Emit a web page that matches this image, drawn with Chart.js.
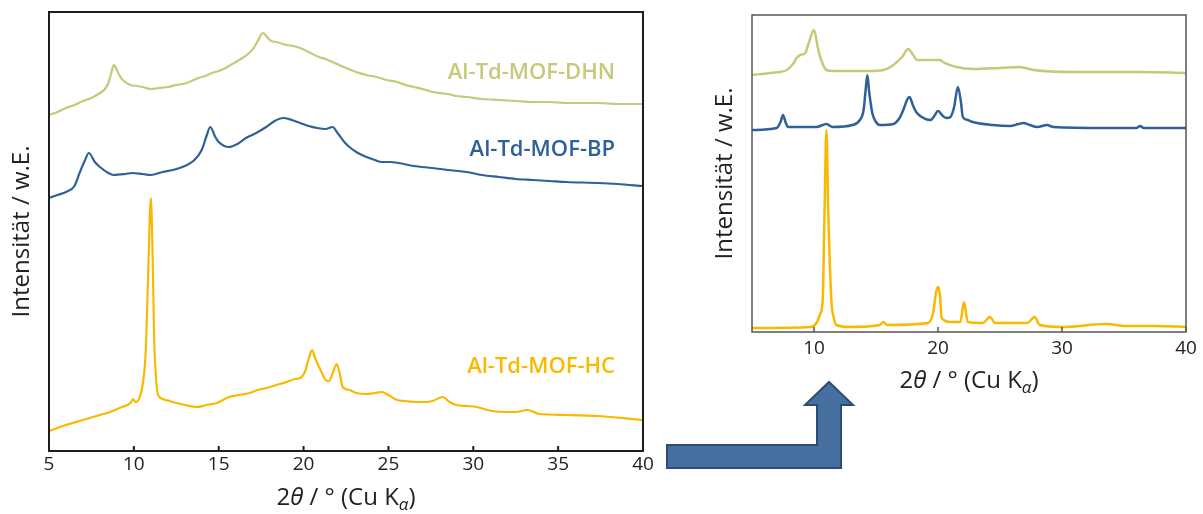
<!DOCTYPE html>
<html>
<head>
<meta charset="utf-8">
<script src="https://cdn.jsdelivr.net/npm/chart.js@4.4.0/dist/chart.umd.min.js"></script>
<style>
  body { margin: 0; background: #fff; }
  #wrap { position: relative; width: 1203px; height: 514px; overflow: hidden; }
  #left { position: absolute; left: 0; top: 0; }
  #right { position: absolute; left: 690px; top: 0; }
  #arrow { position: absolute; left: 0; top: 0; pointer-events: none; }
</style>
</head>
<body>
<div id="wrap">
  <canvas id="left" width="660" height="514"></canvas>
  <canvas id="right" width="513" height="420"></canvas>
  <svg id="arrow" width="1203" height="514">
    <polygon points="667,445 817,445 817,405 805,405 829,382 853,405 841,405 841,468 667,468"
             fill="#4670a0" stroke="#2d4c74" stroke-width="2" stroke-linejoin="miter"/>
  </svg>
</div>
<script>
// measured patterns, 2theta in degrees, intensity in arbitrary units (offset stacked)
const leftTicks = [5, 10, 15, 20, 25, 30, 35, 40];
const rightTicks = [10, 20, 30, 40];

const dhnMeasured = [
  [5.0, 336], [5.5, 339], [6.0, 343], [6.5, 346], [7.0, 350], [7.5, 353], [8.0, 358], [8.3, 362],
  [8.5, 368], [8.7, 380], [8.82, 386], [9.0, 381], [9.1, 377], [9.35, 371], [9.8, 366], [10.2, 365],
  [10.5, 364], [11.0, 362], [11.5, 363], [12.0, 364], [12.5, 366], [13.1, 368], [13.8, 373],
  [14.2, 375], [14.6, 378], [15.0, 380], [15.4, 383], [15.8, 387], [16.2, 391], [16.8, 398],
  [17.1, 404], [17.3, 410], [17.6, 418], [17.9, 413], [18.1, 410], [18.4, 409], [19.0, 406],
  [19.4, 405], [19.8, 403], [20.3, 399], [20.9, 394], [21.3, 392], [21.7, 389], [22.1, 386],
  [22.5, 383], [23.1, 379], [23.7, 376], [24.3, 374], [24.9, 371], [25.5, 369], [26.0, 366],
  [26.5, 364], [27.0, 362], [27.6, 359], [28.5, 357], [29.0, 355], [29.6, 354], [30.5, 352],
  [31.5, 351], [32.5, 350], [33.5, 349], [34.5, 349], [35.5, 348], [36.5, 348], [37.4, 348],
  [38.5, 347], [40.0, 347]
];

const bpMeasured = [
  [5.0, 253], [5.5, 256], [6.0, 259], [6.5, 265], [6.8, 278], [7.1, 290], [7.35, 298], [7.7, 289],
  [8.0, 284], [8.5, 278], [8.8, 276], [9.5, 277], [9.9, 278], [10.5, 277], [11.0, 276], [11.7, 279],
  [12.3, 281], [13.0, 285], [13.5, 290], [14.0, 301], [14.3, 316], [14.5, 324], [14.8, 314],
  [15.0, 309], [15.6, 304], [16.1, 307], [16.6, 313], [17.2, 318], [17.8, 324], [18.3, 330],
  [18.8, 333], [19.3, 331], [19.8, 328], [20.3, 325], [20.8, 323], [21.3, 322], [21.7, 324],
  [22.0, 318], [22.4, 309], [22.7, 304], [23.2, 298], [23.7, 294], [24.2, 291], [24.6, 289],
  [25.1, 289], [25.6, 288], [26.5, 285], [27.6, 283], [28.5, 281], [29.6, 279], [30.5, 276],
  [31.5, 274], [32.5, 272], [33.5, 271], [34.5, 270], [35.5, 269], [37.4, 268], [38.5, 267],
  [40.0, 265]
];

const hcMeasured = [
  [5.0, 20], [6.0, 26], [7.0, 31], [8.0, 36], [8.6, 39], [9.3, 44], [9.8, 48], [9.95, 52],
  [10.1, 49], [10.35, 54], [10.55, 70], [10.7, 100], [10.85, 180], [11.0, 253], [11.1, 200],
  [11.2, 110], [11.3, 75], [11.4, 58], [11.7, 52], [12.1, 50], [12.5, 48], [13.0, 46], [13.7, 44],
  [14.3, 46], [14.9, 48], [15.6, 54], [16.2, 56], [16.8, 58], [17.3, 61], [17.8, 63], [18.4, 66],
  [19.0, 69], [19.5, 72], [19.8, 73], [20.1, 80], [20.3, 92], [20.5, 101], [20.7, 92], [21.0, 81],
  [21.3, 71], [21.5, 70], [21.7, 77], [21.95, 87], [22.15, 76], [22.3, 64], [22.7, 61], [23.1, 58],
  [23.7, 57], [24.2, 58], [24.6, 59], [25.0, 56], [25.5, 51], [26.0, 50], [26.6, 49], [27.2, 49],
  [27.6, 50], [28.2, 54], [28.6, 49], [29.0, 46], [29.6, 45], [30.2, 44], [31.1, 40], [32.0, 39],
  [32.5, 39], [33.2, 41], [33.9, 37], [35.5, 36], [37.4, 35], [40.0, 31]
];

// simulated patterns from the single crystal structures
const dhnSimulated = [
  [5.0, 257], [6.5, 259], [7.8, 262], [8.3, 268], [8.6, 274], [8.9, 277], [9.3, 279], [9.6, 290],
  [10.0, 302], [10.3, 285], [10.5, 275], [11.0, 262], [11.5, 261], [12.9, 261], [14.5, 261],
  [15.6, 262], [16.4, 267], [17.1, 275], [17.6, 283], [18.0, 277], [18.3, 272], [19.6, 272],
  [20.2, 272], [20.4, 270], [21.5, 265], [22.8, 263], [25.0, 264], [26.6, 265], [27.7, 262],
  [30.9, 260], [33.6, 260], [36.3, 260], [40.0, 259]
];

const bpSimulated = [
  [5.0, 202], [7.0, 204], [7.3, 210], [7.5, 217], [7.7, 210], [7.9, 205], [9.0, 205], [10.2, 205],
  [11.0, 208], [11.5, 205], [13.1, 207], [13.7, 212], [14.0, 222], [14.15, 240], [14.3, 257],
  [14.45, 240], [14.7, 219], [15.0, 210], [15.3, 207], [16.4, 208], [16.9, 214], [17.2, 222],
  [17.5, 232], [17.7, 235], [18.0, 226], [18.3, 219], [19.0, 213], [19.4, 212], [19.7, 216],
  [20.0, 221], [20.4, 216], [20.7, 214], [21.0, 215], [21.3, 225], [21.6, 245], [21.85, 230],
  [22.0, 215], [22.4, 212], [22.8, 210], [24.4, 207], [25.8, 206], [26.5, 208], [26.9, 209],
  [27.4, 207], [28.0, 205], [28.8, 207], [29.3, 205], [33.6, 204], [36.0, 204], [36.3, 206],
  [36.6, 204], [40.0, 204]
];

const hcSimulated = [
  [5.0, 4], [9.7, 5], [10.2, 9], [10.5, 18], [10.7, 32], [10.85, 120], [11.0, 202], [11.15, 120],
  [11.4, 32], [11.6, 14], [11.8, 7], [12.9, 5], [15.3, 7], [15.6, 10], [15.9, 7], [19.2, 9],
  [19.6, 19], [19.85, 40], [20.0, 45], [20.15, 38], [20.3, 14], [21.0, 10], [21.8, 10], [22.1, 30],
  [22.4, 10], [23.6, 9], [24.2, 15], [24.6, 9], [27.2, 9], [27.8, 15], [28.2, 7], [30.1, 5],
  [33.5, 8], [35.2, 6], [37.5, 6], [40.0, 5]
];

const seriesNames = ['Al-Td-MOF-DHN', 'Al-Td-MOF-BP', 'Al-Td-MOF-HC'];
const seriesColors = ['#c6c97a', '#2f6199', '#f9b900'];
// label anchors in data units (right aligned)
const labelX = 38.35;
const labelY = [378, 301, 84];

const FONT = '"Open Sans", "Noto Sans", sans-serif';

function toPoints(arr) {
  return arr.map(p => ({ x: p[0], y: p[1] }));
}

function makeDataset(arr, i, width) {
  return {
    label: seriesNames[i],
    data: toPoints(arr),
    borderColor: seriesColors[i],
    borderWidth: width,
    pointRadius: 0,
    fill: false,
    cubicInterpolationMode: 'monotone'
  };
}

// box around the plot with short inward ticks
const framePlugin = {
  id: 'frame',
  afterDatasetsDraw(chart, args, opts) {
    const { ctx, chartArea: a } = chart;
    const xs = chart.scales.x;
    ctx.save();
    ctx.strokeStyle = opts.color;
    ctx.lineWidth = opts.width;
    ctx.strokeRect(a.left, a.top, a.right - a.left, a.bottom - a.top);
    ctx.beginPath();
    xs.ticks.forEach(t => {
      const px = xs.getPixelForValue(t.value);
      ctx.moveTo(px, a.bottom);
      ctx.lineTo(px, a.bottom - opts.tickLen);
    });
    ctx.stroke();
    ctx.restore();
  }
};

// x title with italic theta and subscript alpha
const xTitlePlugin = {
  id: 'xTitle',
  afterDraw(chart, args, opts) {
    const { ctx, chartArea: a } = chart;
    const size = opts.size;
    const parts = [
      { t: '2', f: size + 'px ' + FONT, dy: 0 },
      { t: 'θ', f: 'italic ' + size + 'px ' + FONT, dy: 0 },
      { t: ' / ° (Cu K', f: size + 'px ' + FONT, dy: 0 },
      { t: 'α', f: 'italic ' + Math.round(size * 0.72) + 'px ' + FONT, dy: size * 0.22 },
      { t: ')', f: size + 'px ' + FONT, dy: 0 }
    ];
    ctx.save();
    ctx.fillStyle = '#222';
    ctx.textBaseline = 'alphabetic';
    let total = 0;
    parts.forEach(p => { ctx.font = p.f; p.w = ctx.measureText(p.t).width; total += p.w; });
    let x = (a.left + a.right) / 2 - total / 2;
    parts.forEach(p => {
      ctx.font = p.f;
      ctx.fillText(p.t, x, opts.y + p.dy);
      x += p.w;
    });
    ctx.restore();
  }
};

const seriesLabelPlugin = {
  id: 'seriesLabels',
  afterDatasetsDraw(chart, args, opts) {
    if (!opts.show) return;
    const { ctx } = chart;
    const xs = chart.scales.x, ys = chart.scales.y;
    ctx.save();
    ctx.font = '600 22px ' + FONT;
    ctx.textAlign = 'right';
    ctx.textBaseline = 'middle';
    seriesNames.forEach((name, i) => {
      ctx.fillStyle = seriesColors[i];
      ctx.fillText(name, xs.getPixelForValue(labelX), ys.getPixelForValue(labelY[i]));
    });
    ctx.restore();
  }
};

function makeChart(canvas, sets, cfg) {
  return new Chart(canvas, {
    type: 'line',
    data: { datasets: sets },
    plugins: [framePlugin, xTitlePlugin, seriesLabelPlugin],
    options: {
      responsive: false,
      animation: false,
      devicePixelRatio: 1,
      layout: { padding: cfg.padding },
      plugins: {
        legend: { display: false },
        tooltip: { enabled: false },
        frame: { color: cfg.frameColor, width: cfg.frameWidth, tickLen: 5 },
        xTitle: { size: cfg.titleSize, y: cfg.titleY },
        seriesLabels: { show: cfg.labels }
      },
      scales: {
        x: {
          type: 'linear',
          min: 5,
          max: 40,
          afterBuildTicks: s => { s.ticks = cfg.ticks.map(v => ({ value: v })); },
          afterFit: s => { s.height = cfg.xHeight; },
          grid: { display: false, drawTicks: false },
          border: { display: false },
          ticks: {
            padding: cfg.tickPad,
            color: '#222',
            maxRotation: 0,
            font: { family: FONT, size: cfg.tickSize }
          }
        },
        y: {
          min: 0,
          max: cfg.yMax,
          afterFit: s => { s.width = cfg.yWidth; },
          grid: { display: false, drawTicks: false },
          border: { display: false },
          ticks: { display: false },
          title: {
            display: true,
            text: 'Intensität / w.E.',
            color: '#222',
            padding: cfg.yTitlePad,
            font: { family: FONT, size: cfg.titleSize }
          }
        }
      }
    }
  });
}

makeChart(document.getElementById('left'), [
  makeDataset(dhnMeasured, 0, 2.2),
  makeDataset(bpMeasured, 1, 2.2),
  makeDataset(hcMeasured, 2, 2.2)
], {
  padding: { top: 12, right: 17, left: 0, bottom: 0 },
  xHeight: 63, yWidth: 49, yMax: 439,
  ticks: leftTicks, tickPad: 2, tickSize: 19,
  titleSize: 24, titleY: 505, yTitlePad: 8,
  frameColor: '#1e1e1e', frameWidth: 2, labels: true
});

makeChart(document.getElementById('right'), [
  makeDataset(dhnSimulated, 0, 2.5),
  makeDataset(bpSimulated, 1, 2.5),
  makeDataset(hcSimulated, 2, 2.5)
], {
  padding: { top: 15, right: 17, left: 0, bottom: 0 },
  xHeight: 88, yWidth: 62, yMax: 317,
  ticks: rightTicks, tickPad: 5, tickSize: 19,
  titleSize: 24, titleY: 388, yTitlePad: 21,
  frameColor: '#555', frameWidth: 1.5, labels: false
});
</script>
</body>
</html>
